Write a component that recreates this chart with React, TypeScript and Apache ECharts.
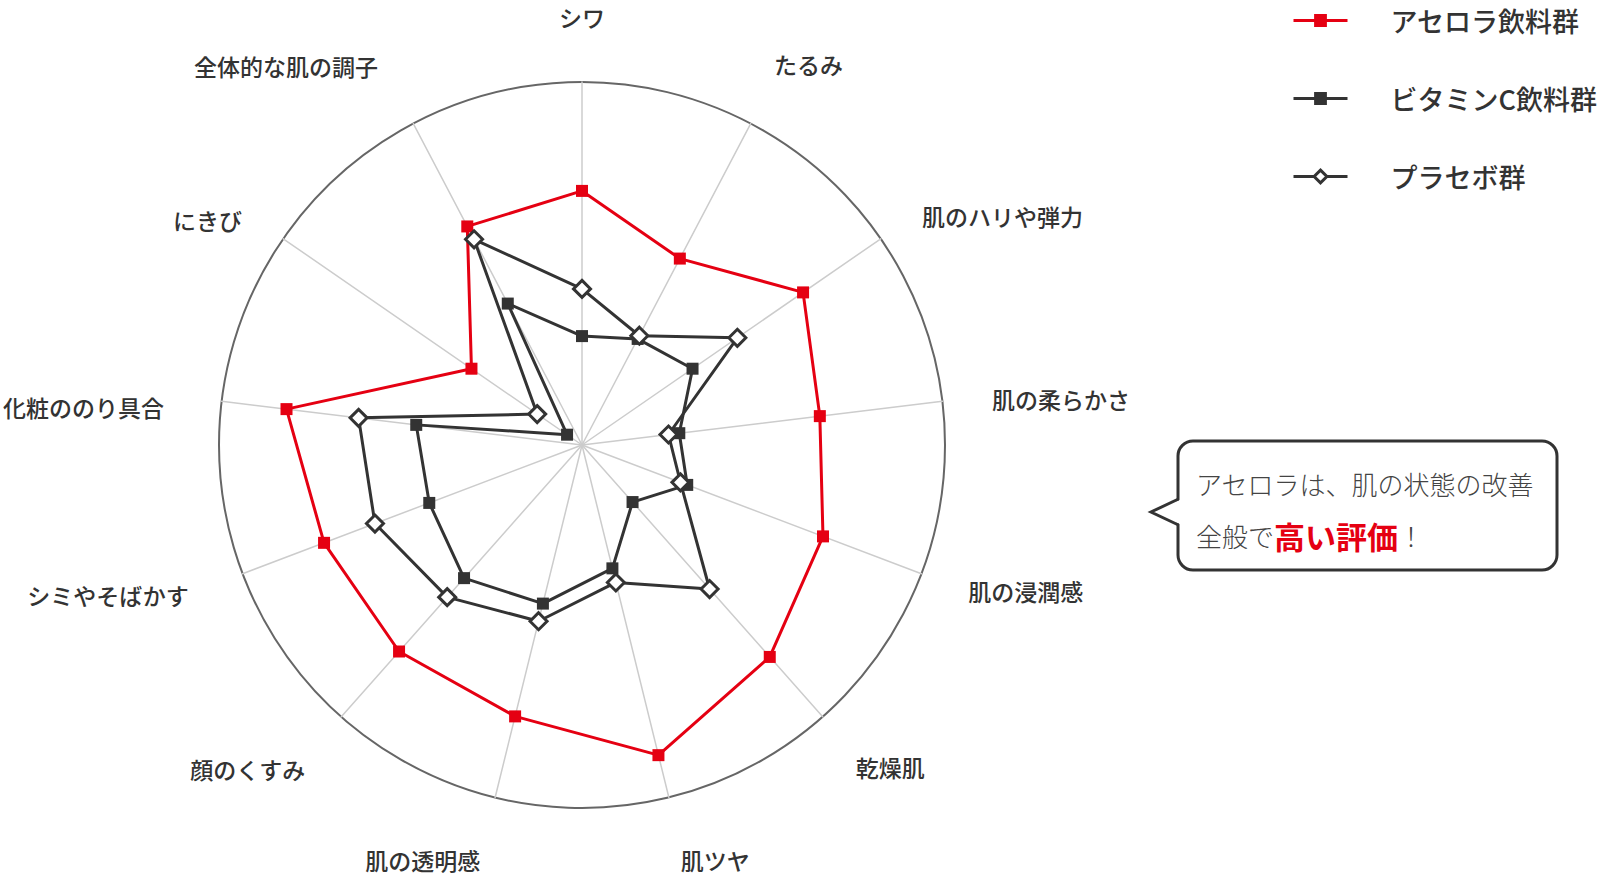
import { useEffect, useRef } from 'react';
import * as echarts from 'echarts';

const indicators = [
  'シワ',
  'たるみ',
  '肌のハリや弾力',
  '肌の柔らかさ',
  '肌の浸潤感',
  '乾燥肌',
  '肌ツヤ',
  '肌の透明感',
  '顔のくすみ',
  'シミやそばかす',
  '化粧ののり具合',
  'にきび',
  '全体的な肌の調子',
];
const seriesNames = ['アセロラ飲料群', 'ビタミンC飲料群', 'プラセボ群'];
// clockwise from the top axis
const acerolaValues = [70, 58, 74, 66, 71, 78, 88, 77, 76, 76, 82, 37, 68];
const vitaminCValues = [30, 33, 37, 27, 31, 21, 35, 45, 49, 45, 46, 5, 44];
const placeboValues = [43, 34, 52, 24, 29, 53, 39, 50, 56, 61, 62, 15, 64];
const calloutLine1 = 'アセロラは、肌の状態の改善';
const calloutLine2 = ['全般で', '高い評価', '！'];

const RED = '#e50012';
const DARK = '#333333';
const FONT = '"Noto Sans CJK JP", "Noto Sans", sans-serif';

// small nudges for the axis names (padding: top, right, bottom, left), same order as indicators
const namePadding = [
  [0, 0, 4, 0],
  [0, 0, 30, 0],
  [12, 0, 0, 0],
  [8, 0, 0, 0],
  [0, 0, 0, 0],
  [26, 0, 0, 0],
  [28, 0, 0, 0],
  [28, 3, 0, 0],
  [30, 3, 0, 0],
  [8, 7, 0, 0],
  [24, 8, 0, 0],
  [20, 0, 0, 0],
  [0, 12, 26, 0],
];

// echarts lays radar indicators out counter-clockwise, so flip the tail
function clockwise<T>(arr: T[]): T[] {
  return [arr[0], ...arr.slice(1).reverse()];
}

export default function App() {
  const chartRef = useRef<HTMLDivElement>(null);

  useEffect(() => {
    if (!chartRef.current) return;
    document.body.style.margin = '0';
    const chart = echarts.init(chartRef.current, null, { renderer: 'svg' });

    const groups = [
      {
        name: seriesNames[0],
        values: acerolaValues,
        symbol: 'rect',
        symbolSize: 12,
        itemStyle: { color: RED },
        lineStyle: { color: RED, width: 3 },
      },
      {
        name: seriesNames[1],
        values: vitaminCValues,
        symbol: 'rect',
        symbolSize: 12,
        itemStyle: { color: DARK },
        lineStyle: { color: DARK, width: 3 },
      },
      {
        name: seriesNames[2],
        values: placeboValues,
        symbol: 'diamond',
        symbolSize: 17,
        itemStyle: { color: '#ffffff', borderColor: DARK, borderWidth: 3 },
        lineStyle: { color: DARK, width: 3 },
      },
    ];

    // empty line series only give the legend its line + marker icons
    const legendSeries = groups.map((g) => ({
      type: 'line',
      name: g.name,
      data: [],
      symbol: g.symbol,
      symbolSize: g.symbolSize,
      itemStyle: g.itemStyle,
      lineStyle: g.lineStyle,
    }));

    const radarSeries = groups.map((g) => ({
      type: 'radar',
      name: g.name,
      symbol: g.symbol,
      symbolSize: g.symbolSize,
      itemStyle: g.itemStyle,
      lineStyle: g.lineStyle,
      data: [{ name: g.name, value: clockwise(g.values) }],
    }));

    const nameRich: Record<string, any> = {};
    namePadding.forEach((p, i) => {
      nameRich['n' + i] = {
        padding: p,
        color: DARK,
        fontSize: 23,
        fontWeight: 500,
        fontFamily: FONT,
      };
    });

    const option: any = {
      animation: false,
      backgroundColor: '#ffffff',
      textStyle: { fontFamily: FONT },
      grid: { left: 0, top: 0, width: 10, height: 10, show: false },
      xAxis: { type: 'category', show: false },
      yAxis: { type: 'value', show: false },
      legend: {
        data: seriesNames.map((name, i) =>
          i === 2 ? { name, itemStyle: { borderWidth: 3, borderColor: DARK } } : { name }
        ),
        orient: 'vertical',
        left: 1287,
        top: 2,
        itemWidth: 54,
        itemHeight: 16,
        itemGap: 51,
        selectedMode: false,
        lineStyle: { width: 3 },
        textStyle: {
          fontFamily: FONT,
          fontSize: 27,
          fontWeight: 500,
          color: DARK,
          padding: [0, 0, 0, 38],
        },
      },
      radar: {
        center: [582, 445],
        radius: 363,
        startAngle: 90,
        splitNumber: 1,
        shape: 'circle',
        nameGap: 50,
        indicator: clockwise(indicators).map((name) => ({ name, min: 0, max: 100 })),
        axisName: {
          color: DARK,
          fontSize: 23,
          fontWeight: 500,
          fontFamily: FONT,
          formatter: (name: string) => `{n${indicators.indexOf(name)}|${name}}`,
          rich: nameRich,
        },
        axisLine: { lineStyle: { color: '#cccccc', width: 1.5 } },
        splitLine: { lineStyle: { color: '#666666', width: 2 } },
        splitArea: { show: false },
        axisTick: { show: false },
        axisLabel: { show: false },
      },
      graphic: [
        {
          type: 'rect',
          shape: { x: 1178, y: 441, width: 379, height: 129, r: 15 },
          style: { fill: '#ffffff', stroke: DARK, lineWidth: 3 },
        },
        {
          type: 'polygon',
          shape: { points: [[1182, 499], [1151, 512], [1182, 525]] },
          style: { fill: '#ffffff' },
        },
        {
          type: 'polyline',
          shape: { points: [[1178.5, 499], [1151, 512], [1178.5, 525]] },
          style: { stroke: DARK, lineWidth: 3, fill: null },
        },
        {
          type: 'text',
          x: 1196,
          y: 483,
          style: {
            text: calloutLine1,
            fontFamily: FONT,
            fontSize: 26,
            fontWeight: 300,
            fill: '#444444',
            verticalAlign: 'middle',
          },
        },
        {
          type: 'text',
          x: 1196,
          y: 535,
          style: {
            text: `{a|${calloutLine2[0]}}{b|${calloutLine2[1]}}{a|${calloutLine2[2]}}`,
            fontFamily: FONT,
            verticalAlign: 'middle',
            rich: {
              a: { fontFamily: FONT, fontSize: 26, fontWeight: 300, fill: '#444444' },
              b: { fontFamily: FONT, fontSize: 31, fontWeight: 'bold', fill: RED },
            },
          },
        },
      ],
      series: [...legendSeries, ...radarSeries],
    };

    chart.setOption(option);

    return () => {
      chart.dispose();
    };
  }, []);

  return <div ref={chartRef} style={{ width: '1610px', height: '880px' }} />;
}
